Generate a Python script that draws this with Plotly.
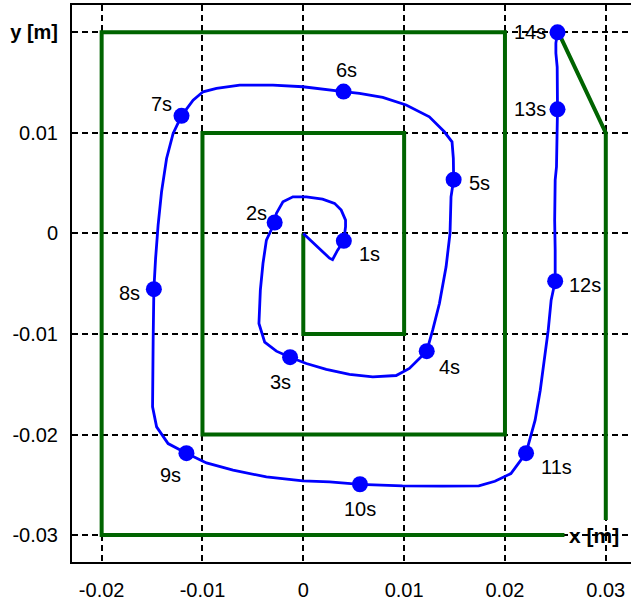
import plotly.graph_objects as go

# ---------------- data (metres) ----------------
path_x = [0, 0.00142, 0.00260, 0.00290, 0.00340, 0.00402, 0.00419, 0.00419, 0.00376, 0.00310,
          0.00191, 0.00030, -0.00103, -0.00202, -0.00267, -0.00284, -0.00366, -0.00400, -0.00426, -0.00440,
          -0.00383, -0.00267, -0.00131, 0.00030, 0.00228, 0.00458, 0.00689, 0.00921, 0.01052, 0.01224,
          0.01283, 0.01350, 0.01416, 0.01455, 0.01465, 0.01491, 0.01488, 0.01475, 0.01399, 0.01250,
          0.01020, 0.00788, 0.00557, 0.00399, -0.00004, -0.00301, -0.00631, -0.00861, -0.00994, -0.01093,
          -0.01208, -0.01291, -0.01356, -0.01406, -0.01440, -0.01465, -0.01482, -0.01489, -0.01495, -0.01455,
          -0.01341, -0.01159, -0.00960, -0.00697, -0.00366, -0.00004, 0.00260, 0.00562, 0.00983, 0.01379,
          0.01741, 0.01900, 0.02059, 0.02209, 0.02299, 0.02350, 0.02389, 0.02429, 0.02458, 0.02498,
          0.02498, 0.02493, 0.02498, 0.02511, 0.02521, 0.02518, 0.02505, 0.02505, 0.02521]
path_y = [0, -0.00136, -0.00246, -0.00261, -0.00166, -0.00074, 0.00066, 0.00132, 0.00232, 0.00299,
          0.00341, 0.00364, 0.00364, 0.00314, 0.00199, 0.00109, -0.00067, -0.00299, -0.00564, -0.00896,
          -0.01082, -0.01171, -0.01231, -0.01294, -0.01353, -0.01403, -0.01427, -0.01413, -0.01343, -0.01171,
          -0.00962, -0.00697, -0.00332, 0.00000, 0.00364, 0.00535, 0.00746, 0.00911, 0.01011, 0.01160,
          0.01277, 0.01353, 0.01393, 0.01411, 0.01459, 0.01476, 0.01476, 0.01443, 0.01409, 0.01326,
          0.01170, 0.00995, 0.00746, 0.00414, 0.00083, -0.00249, -0.00554, -0.01045, -0.01725, -0.01924,
          -0.02090, -0.02186, -0.02283, -0.02355, -0.02422, -0.02462, -0.02472, -0.02495, -0.02511, -0.02514,
          -0.02511, -0.02465, -0.02388, -0.02186, -0.01858, -0.01559, -0.01261, -0.00962, -0.00664, -0.00475,
          -0.00166, 0.00132, 0.00531, 0.00663, 0.01234, 0.01655, 0.01794, 0.01894, 0.02000]

time_labels = ["1s", "2s", "3s", "4s", "5s", "6s", "7s", "8s", "9s", "10s", "11s", "12s", "13s", "14s"]
marker_x = [0.00402, -0.00284, -0.00131, 0.01224, 0.01491, 0.00399, -0.01208, -0.01482,
            -0.01159, 0.00562, 0.02209, 0.02498, 0.02521, 0.02521]
marker_y = [-0.00074, 0.00109, -0.01231, -0.01171, 0.00535, 0.01411, 0.01170, -0.00554,
            -0.02186, -0.02495, -0.02186, -0.00475, 0.01234, 0.02000]

ref_x = [0, 0, 0.01, 0.01, -0.01, -0.01, 0.02, 0.02, -0.02, -0.02, 0.0259, None, 0.03, 0.03, 0.0253]
ref_y = [0, -0.01, -0.01, 0.01, 0.01, -0.02, -0.02, 0.02, 0.02, -0.03, -0.03, None, -0.0285, 0.01, 0.02]

x_ticks = [-0.02, -0.01, 0, 0.01, 0.02, 0.03]
x_ticktext = ["-0.02", "-0.01", "0", "0.01", "0.02", "0.03"]
y_ticks = [-0.03, -0.02, -0.01, 0, 0.01, 0.02]
y_ticktext = ["-0.03", "-0.02", "-0.01", "0", "0.01", "<b>y [m]</b>"]

# ---------------- style ----------------
label_offsets = [(26, 13), (-18, -9), (-10, 25), (23, 16), (26, 3), (3, -22), (-20, -12),
                 (-24, 4), (-16, 22), (0, 25), (30, 14), (30, 4), (-28, 0), (-28, 0)]
FONT = "Liberation Sans, Arial, sans-serif"
GREEN = "#006400"
BLUE = "#0000ff"

fig = go.Figure()
fig.add_trace(go.Scatter(x=ref_x, y=ref_y, mode="lines", connectgaps=False,
                         line=dict(color=GREEN, width=4), hoverinfo="skip"))
fig.add_trace(go.Scatter(x=path_x, y=path_y, mode="lines",
                         line=dict(color=BLUE, width=2.8), hoverinfo="skip"))
fig.add_trace(go.Scatter(x=marker_x, y=marker_y, mode="markers",
                         marker=dict(color=BLUE, size=16, line=dict(width=0)), hoverinfo="skip"))

for t, mx, my, (dx, dy) in zip(time_labels, marker_x, marker_y, label_offsets):
    fig.add_annotation(x=mx, y=my, xref="x", yref="y", text=t, showarrow=False,
                       xshift=dx, yshift=-dy, font=dict(family=FONT, size=20, color="black"))

fig.add_annotation(x=0.02617, y=-0.03, xref="x", yref="y", text="<b>x [m]</b>", showarrow=False,
                   xanchor="left", yanchor="middle", font=dict(family=FONT, size=21, color="black"))

grid = dict(showgrid=True, gridcolor="black", gridwidth=1.6, griddash="6px,4px", zeroline=False)
fig.update_xaxes(range=[-0.02294, 0.0325], tickmode="array", tickvals=x_ticks, ticktext=x_ticktext,
                 showline=True, linecolor="black", linewidth=2, mirror=True, ticks="",
                 automargin=False,
                 ticklabelstandoff=9, tickfont=dict(family=FONT, size=20, color="black"), **grid)
fig.update_yaxes(range=[-0.03268, 0.02272], tickmode="array", tickvals=y_ticks, ticktext=y_ticktext,
                 showline=True, linecolor="black", linewidth=2, mirror=False, ticks="",
                 automargin=False,
                 ticklabelstandoff=8, tickfont=dict(family=FONT, size=20, color="black"), **grid)
fig.update_layout(width=631, height=603, margin=dict(l=72, r=0, t=5, b=41),
                  plot_bgcolor="white", paper_bgcolor="white", showlegend=False,
                  font=dict(family=FONT, color="black"))

fig.write_html("out.html", config={"displayModeBar": False},
               post_script="document.body.style.margin='0';document.body.style.overflow='hidden';")
